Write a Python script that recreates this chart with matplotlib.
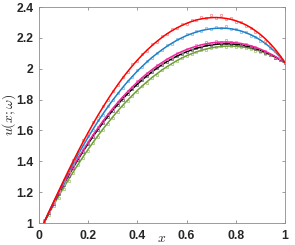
import numpy as np
import matplotlib
matplotlib.use("Agg")
import matplotlib.pyplot as plt

plt.rcParams['mathtext.fontset'] = 'cm'

# x grid (same for curves and markers)
x = np.round(np.arange(1, 51) * 0.02, 2)

# solid curves, values in thousandths
red_line = [1002,1071,1139,1207,1274,1340,1404,1467,1528,1587,1644,1699,1751,1802,1850,1896,1940,1981,2020,2056,
            2090,2122,2151,2178,2203,2226,2246,2264,2280,2294,2306,2316,2323,2328,2331,2332,2330,2326,2320,2311,
            2299,2285,2267,2246,2222,2194,2162,2126,2085,2040]
blue_line = [1001,1070,1137,1202,1266,1328,1388,1447,1503,1557,1609,1659,1707,1753,1797,1838,1878,1916,1951,1985,
             2016,2046,2074,2099,2123,2145,2165,2184,2200,2215,2227,2238,2247,2254,2259,2262,2263,2262,2259,2253,
             2245,2234,2221,2205,2186,2164,2138,2109,2076,2039]
mag_line = [1000,1067,1131,1194,1254,1312,1368,1422,1474,1524,1572,1617,1661,1703,1743,1781,1817,1851,1883,1914,
            1943,1970,1995,2019,2040,2061,2079,2096,2111,2124,2136,2146,2155,2162,2167,2171,2173,2173,2172,2168,
            2164,2157,2149,2139,2127,2113,2097,2080,2060,2038]
black_line = [1000,1065,1129,1190,1250,1307,1362,1415,1466,1515,1562,1607,1650,1691,1731,1768,1804,1838,1870,1900,
              1929,1955,1981,2004,2026,2046,2064,2081,2096,2110,2122,2132,2141,2149,2154,2158,2161,2161,2161,2158,
              2154,2148,2141,2131,2120,2108,2093,2077,2058,2038]
green_line = [1002,1061,1118,1175,1229,1282,1333,1383,1431,1478,1523,1567,1609,1649,1688,1726,1762,1796,1828,1860,
              1889,1917,1944,1968,1992,2013,2033,2052,2069,2084,2097,2109,2119,2128,2135,2140,2144,2146,2147,2145,
              2142,2138,2131,2123,2113,2102,2089,2074,2057,2039]

# square markers (noisy samples)
red_pts = [1015,1070,1142,1205,1280,1338,1410,1462,1535,1585,1652,1696,1760,1800,1858,1892,1948,1978,2030,2052,
           2098,2118,2160,2175,2212,2222,2255,2262,2290,2292,2315,2314,2335,2326,2345,2330,2348,2322,2330,2305,
           2300,2275,2262,2235,2215,2180,2155,2112,2078,2038]
blue_pts = [1010,1072,1135,1208,1262,1335,1385,1452,1500,1562,1606,1665,1703,1758,1795,1845,1874,1920,1948,1990,
            2012,2052,2070,2105,2120,2152,2162,2190,2198,2222,2226,2245,2246,2262,2258,2272,2262,2275,2256,2260,
            2240,2236,2215,2208,2180,2168,2132,2112,2072,2040]
mag_pts = [1018,1070,1128,1198,1250,1316,1364,1426,1470,1528,1568,1622,1658,1708,1740,1786,1814,1856,1880,1918,
           1940,1975,1993,2024,2038,2066,2078,2102,2110,2130,2135,2152,2156,2170,2166,2182,2172,2184,2170,2176,
           2160,2160,2145,2140,2122,2112,2092,2078,2055,2036]
black_pts = [1005,1062,1126,1186,1246,1304,1358,1411,1462,1511,1558,1603,1646,1688,1727,1765,1800,1835,1867,1897,
             1926,1952,1978,2002,2024,2045,2063,2080,2096,2110,2122,2134,2142,2152,2156,2164,2163,2166,2160,2160,
             2152,2146,2138,2128,2116,2104,2088,2072,2054,2036]
green_pts = [1000,1052,1110,1165,1222,1272,1326,1374,1424,1468,1516,1558,1602,1640,1682,1718,1756,1788,1824,1852,
             1886,1910,1940,1962,1990,2008,2032,2048,2068,2080,2098,2106,2120,2124,2136,2138,2146,2142,2148,2140,
             2142,2132,2130,2116,2110,2096,2086,2068,2054,2036]

series = [  # line, markers, line colour, marker colour
    (green_line, green_pts, '#6f9f35', '#9cc070'),
    (black_line, black_pts, '#000000', '#606060'),
    (mag_line, mag_pts, '#f0269c', '#ec7cc0'),
    (blue_line, blue_pts, '#1f80c8', '#7ab6e2'),
    (red_line, red_pts, '#ff0000', '#f38080'),
]

fig = plt.figure(figsize=(2.95, 2.45), dpi=100)
ax = fig.add_axes([39/295, 22/245, 246/295, 216/245])

for ln, pts, c, mc in series:
    ax.plot(x, np.array(pts)/1000, 's', ms=2.0, mfc='none', mec=mc, mew=0.5)
    ax.plot(x, np.array(ln)/1000, '-', color=c, lw=1.1)

ax.set_xlim(0, 1)
ax.set_ylim(1, 2.4)
ax.set_xticks([0, 0.2, 0.4, 0.6, 0.8, 1])
ax.set_xticklabels(['0', '0.2', '0.4', '0.6', '0.8', '1'])
ax.set_yticks([1, 1.2, 1.4, 1.6, 1.8, 2, 2.2, 2.4])
ax.set_yticklabels(['1', '1.2', '1.4', '1.6', '1.8', '2', '2.2', '2.4'])

for s in ax.spines.values():
    s.set_color('#8c8c8c')
    s.set_linewidth(0.6)
ax.tick_params(direction='in', length=2.5, width=0.6, color='#8c8c8c',
               top=True, right=True, labelcolor='#262626', labelsize=8.8)
ax.tick_params(axis='x', pad=5)
ax.tick_params(axis='y', pad=4)
for lab in ax.get_xticklabels() + ax.get_yticklabels():
    lab.set_family('Liberation Sans')
    lab.set_fontweight('bold')

ax.set_xlabel('$x$', fontsize=10, color='#262626')
ax.xaxis.set_label_coords(0.5, -0.035)
ax.set_ylabel('$u(x;\\omega)$', fontsize=10, color='#262626')
ax.yaxis.set_label_coords(-0.086, 0.5)

fig.savefig('out.png', dpi=100)
